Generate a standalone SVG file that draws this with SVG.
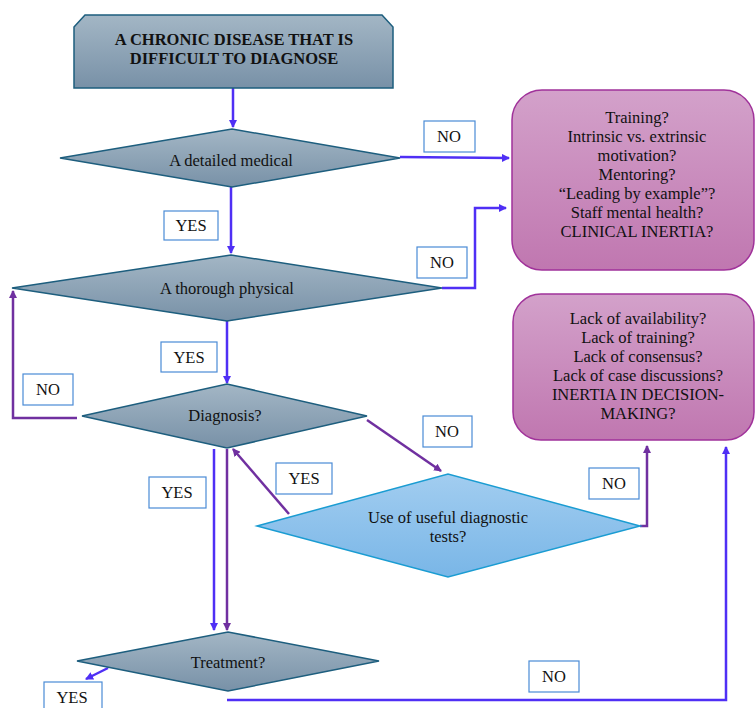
<svg xmlns="http://www.w3.org/2000/svg" width="755" height="708" viewBox="0 0 755 708">
<defs>
<linearGradient id="gGray" x1="0" y1="0" x2="0" y2="1"><stop offset="0" stop-color="#a3b6c5"/><stop offset="1" stop-color="#7891a7"/></linearGradient>
<linearGradient id="gBlue" x1="0" y1="0" x2="0" y2="1"><stop offset="0" stop-color="#a2cdf0"/><stop offset="1" stop-color="#79b6e7"/></linearGradient>
<linearGradient id="gPink" x1="0" y1="0" x2="0" y2="1"><stop offset="0" stop-color="#d3a1ca"/><stop offset="1" stop-color="#c077b0"/></linearGradient>
<marker id="aB" markerWidth="8" markerHeight="8" refX="7" refY="4" orient="auto" markerUnits="userSpaceOnUse"><path d="M0,0 L8,4 L0,8 z" fill="#4f2ff5"/></marker>
<marker id="aP" markerWidth="8" markerHeight="8" refX="7" refY="4" orient="auto" markerUnits="userSpaceOnUse"><path d="M0,0 L8,4 L0,8 z" fill="#7030a0"/></marker>
<style>
text{font-family:'Liberation Serif','Times New Roman',serif;font-size:16.5px;fill:#111;text-anchor:middle}
.b{font-weight:bold}
.gray{fill:url(#gGray);stroke:#1d5e7e;stroke-width:1.5}
.lblue{fill:url(#gBlue);stroke:#1a9cd2;stroke-width:1.5}
.pink{fill:url(#gPink);stroke:#a0329a;stroke-width:1.5}
.lab{fill:#fff;stroke:#4a8bd6;stroke-width:1.2}
.cb{fill:none;stroke:#4f2ff5;stroke-width:2.5;marker-end:url(#aB)}
.cp{fill:none;stroke:#7030a0;stroke-width:2.5;marker-end:url(#aP)}
</style>
</defs>
<g id="connectors">
<path class="cb" d="M233,88 L233,127"/>
<path class="cb" d="M231,187 L231,253"/>
<path class="cb" d="M400,157 L509,158"/>
<path class="cb" d="M442,288 L475,288 L475,208 L506,208"/>
<path class="cb" d="M227,321 L227,383"/>
<path class="cp" d="M77,418 L13,418 L13,291"/>
<path class="cp" d="M367,420 L441,471"/>
<path class="cp" d="M640,526 L647,526 L647,446"/>
<path class="cp" d="M289,514 L233,449"/>
<path class="cb" d="M214,449 L214,630"/>
<path class="cp" d="M227,449 L227,630"/>
<path class="cb" d="M108,668 L86,679"/>
<path class="cb" d="M227,700 L726,700 L726,447"/>
</g>
<g id="start">
<polygon class="gray" points="74,27 85,15 382,15 393,27 393,88 74,88"/>
<text class="b" x="234" y="45">A CHRONIC DISEASE THAT IS</text>
<text class="b" x="234" y="64">DIFFICULT TO DIAGNOSE</text>
</g>
<g id="medical">
<polygon class="gray" points="60,158 232,129 400,158 232,187"/>
<text x="231" y="166">A detailed medical</text>
</g>
<g id="physical">
<polygon class="gray" points="12,288 231,255 442,288 227,321"/>
<text x="227" y="294">A thorough physical</text>
</g>
<g id="diagnosis">
<polygon class="gray" points="82,416 227,384 367,416 227,448"/>
<text x="225" y="421">Diagnosis?</text>
</g>
<g id="tests">
<polygon class="lblue" points="257,526 448,474 640,526 448,577"/>
<text x="448" y="523">Use of useful diagnostic</text>
<text x="448" y="542">tests?</text>
</g>
<g id="treatment">
<polygon class="gray" points="77,661 228,632 379,661 228,691"/>
<text x="228" y="668">Treatment?</text>
</g>
<g id="clinical-inertia">
<rect class="pink" x="512" y="90" width="242" height="180" rx="30"/>
<text x="637" y="123">Training?</text>
<text x="637" y="142">Intrinsic vs. extrinsic</text>
<text x="637" y="161">motivation?</text>
<text x="637" y="180">Mentoring?</text>
<text x="637" y="199">“Leading by example”?</text>
<text x="637" y="218">Staff mental health?</text>
<text x="637" y="237">CLINICAL INERTIA?</text>
</g>
<g id="decision-inertia">
<rect class="pink" x="513" y="294" width="241" height="146" rx="28"/>
<text x="638" y="324">Lack of availability?</text>
<text x="638" y="343">Lack of training?</text>
<text x="638" y="362">Lack of consensus?</text>
<text x="638" y="381">Lack of case discussions?</text>
<text x="638" y="400">INERTIA IN DECISION-</text>
<text x="638" y="419">MAKING?</text>
</g>
<g id="labels">
<g id="l-no1"><rect class="lab" x="424" y="121" width="51" height="31"/><text x="449" y="142">NO</text></g>
<g id="l-yes1"><rect class="lab" x="164" y="211" width="54" height="29"/><text x="191" y="231">YES</text></g>
<g id="l-no2"><rect class="lab" x="417" y="247" width="50" height="31"/><text x="442" y="268">NO</text></g>
<g id="l-yes2"><rect class="lab" x="161" y="342" width="56" height="30"/><text x="189" y="363">YES</text></g>
<g id="l-no3"><rect class="lab" x="23" y="374" width="50" height="31"/><text x="48" y="395">NO</text></g>
<g id="l-no4"><rect class="lab" x="423" y="416" width="49" height="31"/><text x="447" y="437">NO</text></g>
<g id="l-yes3"><rect class="lab" x="276" y="463" width="56" height="31"/><text x="304" y="484">YES</text></g>
<g id="l-no5"><rect class="lab" x="589" y="468" width="50" height="31"/><text x="614" y="489">NO</text></g>
<g id="l-yes4"><rect class="lab" x="149" y="477" width="57" height="31"/><text x="177" y="498">YES</text></g>
<g id="l-no6"><rect class="lab" x="529" y="661" width="50" height="31"/><text x="554" y="682">NO</text></g>
<g id="l-yes5"><rect class="lab" x="44" y="682" width="58" height="30"/><text x="72" y="703">YES</text></g>
</g>
</svg>
